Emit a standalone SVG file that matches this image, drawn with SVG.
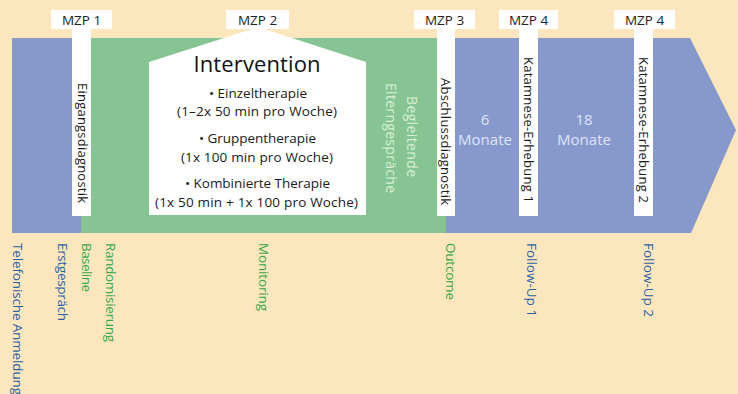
<svg xmlns="http://www.w3.org/2000/svg" width="738" height="394" viewBox="0 0 738 394">
<style>
text{font-family:"Open Sans","Noto Sans","Liberation Sans",sans-serif;}
.mzp{font-size:13.5px;fill:#222;text-anchor:middle;}
.strip{font-size:13px;fill:#1a1a1a;text-anchor:end;}
.iv{font-size:13.5px;fill:#1a1a1a;text-anchor:middle;}
.lblB{font-size:13.5px;fill:#2b62a6;}
.lblG{font-size:13.5px;fill:#35a84b;}
.mon{font-size:15px;fill:#dfe4f6;text-anchor:middle;}
.par{font-size:14px;fill:#daf0d6;text-anchor:middle;}
.white{fill:#ffffff;}
</style>
<rect x="0" y="0" width="738" height="394" fill="#fce6bd"/>
<g id="band">
<rect x="12" y="38" width="70" height="195" fill="#8798cd"/>
<rect x="81" y="38" width="366" height="195" fill="#86c593"/>
<polygon points="446,38 690,38 736,130 691,233 446,233" fill="#8798cd"/>
</g>
<g id="intervention">
<polygon class="white" points="149,215 149,62 258,27 366,62 366,215"/>
<text x="257" y="72" font-size="22" fill="#111" text-anchor="middle" textLength="127">Intervention</text>
<text class="iv" x="258" y="98" textLength="98">• Einzeltherapie</text>
<text class="iv" x="257" y="116" textLength="160">(1–2x 50 min pro Woche)</text>
<text class="iv" x="257.5" y="143" textLength="117">• Gruppentherapie</text>
<text class="iv" x="257" y="162" textLength="152">(1x 100 min pro Woche)</text>
<text class="iv" x="257.5" y="188" textLength="145">• Kombinierte Therapie</text>
<text class="iv" x="256.5" y="207" textLength="203">(1x 50 min + 1x 100 pro Woche)</text>
</g>
<g id="eltern">
<text class="par" transform="translate(407,136.5) rotate(90)" textLength="81">Begleitende</text>
<text class="par" transform="translate(386,138) rotate(90)" textLength="110">Elterngespräche</text>
</g>
<g id="months">
<text class="mon" x="485" y="125">6</text>
<text class="mon" x="485" y="145" textLength="54">Monate</text>
<text class="mon" x="584" y="125">18</text>
<text class="mon" x="584" y="145" textLength="54">Monate</text>
</g>
<g id="mzp1">
<rect class="white" x="51" y="10" width="61" height="19"/>
<rect class="white" x="72" y="28" width="19" height="188"/>
<text class="mzp" x="81.5" y="25">MZP 1</text>
<text class="strip" transform="translate(77.5,203) rotate(90)" textLength="120">Eingangsdiagnostik</text>
</g>
<g id="mzp2">
<rect class="white" x="226" y="10" width="63" height="19"/>
<text class="mzp" x="257.5" y="25">MZP 2</text>
</g>
<g id="mzp3">
<rect class="white" x="414" y="10" width="61" height="19"/>
<rect class="white" x="437" y="28" width="18" height="188"/>
<text class="mzp" x="444.5" y="25">MZP 3</text>
<text class="strip" transform="translate(441,205) rotate(90)" textLength="127">Abschlussdiagnostik</text>
</g>
<g id="mzp4a">
<rect class="white" x="499" y="10" width="59" height="19"/>
<rect class="white" x="519" y="28" width="19" height="188"/>
<text class="mzp" x="528.5" y="25">MZP 4</text>
<text class="strip" transform="translate(524,203) rotate(90)" textLength="146">Katamnese-Erhebung 1</text>
</g>
<g id="mzp4b">
<rect class="white" x="614" y="10" width="61" height="19"/>
<rect class="white" x="634" y="28" width="19" height="188"/>
<text class="mzp" x="644.5" y="25">MZP 4</text>
<text class="strip" transform="translate(639,203) rotate(90)" textLength="146">Katamnese-Erhebung 2</text>
</g>
<g id="labels">
<text class="lblB" transform="translate(13,243) rotate(90)" textLength="152">Telefonische Anmeldung</text>
<text class="lblB" transform="translate(58,243) rotate(90)" textLength="78">Erstgespräch</text>
<text class="lblG" transform="translate(82,243) rotate(90)" textLength="49">Baseline</text>
<text class="lblG" transform="translate(106,243) rotate(90)" textLength="99">Randomisierung</text>
<text class="lblG" transform="translate(258.5,243) rotate(90)" textLength="68">Monitoring</text>
<text class="lblG" transform="translate(446,243) rotate(90)" textLength="57">Outcome</text>
<text class="lblB" transform="translate(527,243) rotate(90)" textLength="74">Follow-Up 1</text>
<text class="lblB" transform="translate(644,243) rotate(90)" textLength="74">Follow-Up 2</text>
</g>
</svg>
